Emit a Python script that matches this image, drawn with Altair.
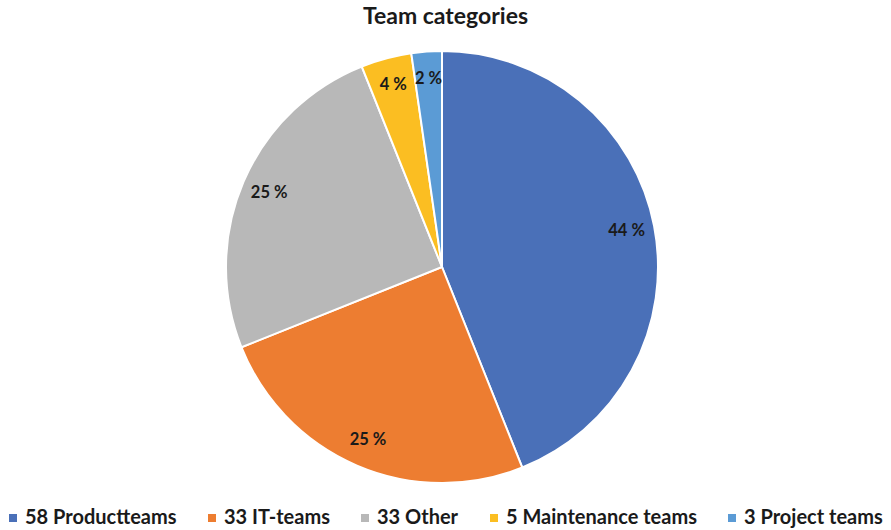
import altair as alt
import pandas as pd

categories = ["58 Productteams", "33 IT-teams", "33 Other", "5 Maintenance teams", "3 Project teams"]
counts = [58, 33, 33, 5, 3]
pct_labels = ["44 %", "25 %", "25 %", "4 %", "2 %"]
colors = ["#4A70B8", "#ED7D31", "#B8B8B8", "#FBBE22", "#5B9BD5"]

df = pd.DataFrame({
    "category": categories,
    "count": counts,
    "label": pct_labels,
    "order": list(range(len(categories))),
})

FONT = "Lato"
CX, CY = 442, 232
R = 216

base = alt.Chart(df).encode(
    theta=alt.Theta("count:Q", stack=True),
    order=alt.Order("order:Q"),
)

pie = base.mark_arc(outerRadius=R, stroke="white", strokeWidth=2).encode(
    x=alt.value(CX),
    y=alt.value(CY),
    color=alt.Color(
        "category:N",
        sort=categories,
        scale=alt.Scale(domain=categories, range=colors),
        legend=alt.Legend(
            title=None,
            orient="none",
            legendX=3,
            legendY=473,
            direction="horizontal",
            symbolType="square",
            symbolSize=64,
            symbolStrokeWidth=0,
            labelFont=FONT,
            labelFontSize=20,
            labelFontWeight="bold",
            labelColor="#1a1a1a",
            labelOffset=2,
            columnPadding=25,
            labelLimit=400,
        ),
    ),
)

text = base.mark_text(radius=188, font=FONT, fontSize=16.5, fontWeight="bold", color="#1a1a1a").encode(
    x=alt.value(CX),
    y=alt.value(CY),
    text="label:N",
)

chart = (pie + text).properties(
    width=891,
    height=495,
    padding={"top": 35, "left": 0, "right": 0, "bottom": 0},
    autosize=alt.AutoSizeParams(type="none"),
    title=alt.TitleParams(
        "Team categories",
        font=FONT,
        fontSize=23,
        fontWeight="bold",
        color="#1a1a1a",
        anchor="middle",
        offset=6,
    ),
).configure_view(stroke=None)

chart.save("out.html", embed_options={"renderer": "svg", "actions": False})
